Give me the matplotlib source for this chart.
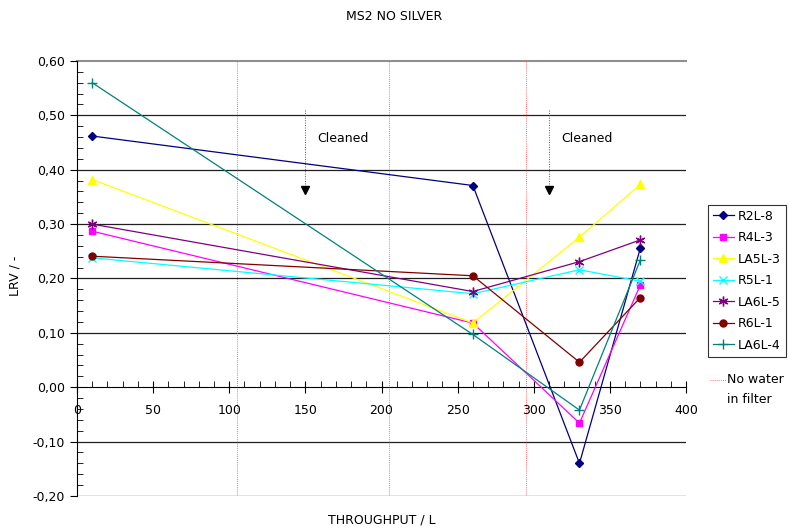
import matplotlib.pyplot as plt
from matplotlib.ticker import MultipleLocator, FuncFormatter

throughput = [10, 260, 330, 370]
r2l_8 = [0.462, 0.371, -0.140, 0.256]
r4l_3 = [0.287, 0.118, -0.066, 0.188]
la5l_3 = [0.382, 0.118, 0.276, 0.373]
r5l_1 = [0.238, 0.172, 0.216, 0.195]
la6l_5 = [0.300, 0.176, 0.231, 0.271]
r6l_1 = [0.241, 0.205, 0.046, 0.165]
la6l_4 = [0.560, 0.097, -0.042, 0.234]

no_water_x = [105, 205, 295]
cleaned_x = [150, 310]

series = [
    ('R2L-8', r2l_8, '#000080', 'D', 4),
    ('R4L-3', r4l_3, '#FF00FF', 's', 5),
    ('LA5L-3', la5l_3, '#FFFF00', '^', 6),
    ('R5L-1', r5l_1, '#00FFFF', 'x', 6),
    ('LA6L-5', la6l_5, '#800080', (6, 2, 0), 7),
    ('R6L-1', r6l_1, '#800000', 'o', 5),
    ('LA6L-4', la6l_4, '#008080', '+', 7),
]

plt.rcParams['font.family'] = 'DejaVu Sans'
plt.rcParams['font.size'] = 8

fig = plt.figure(figsize=(7.89, 5.29), dpi=100)
ax = fig.add_axes([0.0976, 0.0624, 0.7719, 0.8223])
ax.set_xlim(0, 400)
ax.set_ylim(-0.2, 0.6)

for y in [-0.2, -0.1, 0.1, 0.2, 0.3, 0.4, 0.5]:
    ax.axhline(y, color='#202020', lw=0.9, zorder=1)
ax.axhline(0.6, color='#909090', lw=1.5, zorder=1, clip_on=False)

for x in no_water_x:
    ax.axvline(x, color='#ff4040', lw=0.6, ls=(0, (1, 1.5)), zorder=1)
for x in cleaned_x:
    ax.plot([x, x], [0.51, 0.37], color='#555555', lw=0.7, ls=(0, (1, 1.5)), zorder=1)
    ax.plot(x, 0.362, marker='v', color='black', ms=6, zorder=3)
    ax.text(x + 8, 0.458, 'Cleaned', fontsize=9, va='center', ha='left')

lines = []
for name, vals, col, mk, ms in series:
    ln, = ax.plot(throughput, vals, color=col, marker=mk, ms=ms, lw=0.9,
                  markeredgecolor=col, mew=1, label=name, zorder=4)
    lines.append(ln)

for s in ['top', 'right']:
    ax.spines[s].set_visible(False)
ax.spines['bottom'].set_position(('data', 0))
ax.spines['bottom'].set_zorder(2)
ax.spines['left'].set_color('black')

ax.xaxis.set_major_locator(MultipleLocator(50))
ax.xaxis.set_minor_locator(MultipleLocator(10))
ax.yaxis.set_major_locator(MultipleLocator(0.1))
ax.yaxis.set_minor_locator(MultipleLocator(0.02))
ax.yaxis.set_major_formatter(FuncFormatter(lambda v, p: f'{v:.2f}'.replace('.', ',').replace('-0,00', '0,00')))
ax.tick_params(axis='x', which='major', direction='inout', length=8, pad=8, labelsize=9)
ax.tick_params(axis='x', which='minor', direction='in', length=4)
ax.tick_params(axis='y', which='major', direction='out', length=5, labelsize=9)
ax.tick_params(axis='y', which='minor', direction='in', length=4)

fig.text(0.5, 0.968, 'MS2 NO SILVER', ha='center', va='center', fontsize=9)
fig.text(0.484, 0.017, 'THROUGHPUT / L', ha='center', va='center', fontsize=9)
fig.text(0.019, 0.478, 'LRV / -', rotation=90, ha='center', va='center', fontsize=9)

leg = fig.legend(handles=lines, loc='upper left', bbox_to_anchor=(0.897, 0.613),
                 frameon=True, fancybox=False, edgecolor='black', fontsize=9,
                 handlelength=1.7, handletextpad=0.3, labelspacing=0.68,
                 borderpad=0.4, borderaxespad=0)
leg.get_frame().set_linewidth(0.8)

fig.lines.append(plt.Line2D([0.9, 0.92], [0.282, 0.282], transform=fig.transFigure,
                            color='#ff4040', lw=0.6, ls=(0, (1, 1.5))))
fig.text(0.921, 0.282, 'No water', fontsize=9, va='center')
fig.text(0.921, 0.244, 'in filter', fontsize=9, va='center')

fig.savefig('out.png', dpi=100)
